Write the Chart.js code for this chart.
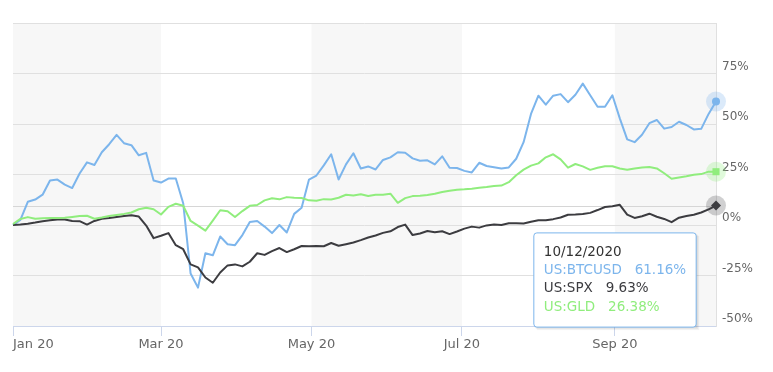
<!DOCTYPE html>
<html>
<head>
<meta charset="utf-8">
<script src="https://cdn.jsdelivr.net/npm/chart.js@4.4.1/dist/chart.umd.min.js"></script>
<style>
  html, body { margin: 0; padding: 0; background: #fff; }
  #wrap { width: 773px; height: 372px; }
</style>
</head>
<body>
<div id="wrap"><canvas id="perfChart" width="773" height="372"></canvas></div>
<script>
// day offsets from 1 Jan 2020
const days = [0, 3, 6, 9, 12, 15, 18, 21, 24, 27, 30, 33, 36, 39, 42, 45, 48, 51, 54, 57,
    60, 63, 66, 69, 72, 75, 78, 81, 84, 87, 90, 93, 96, 99, 102, 105, 108, 111, 114, 117,
    120, 123, 126, 129, 132, 135, 138, 141, 144, 147, 150, 153, 156, 159, 162, 165, 168, 171, 174, 177,
    180, 183, 186, 189, 192, 195, 198, 201, 204, 207, 210, 213, 216, 219, 222, 225, 228, 231, 234, 237,
    240, 243, 246, 249, 252, 255, 258, 261, 264, 267, 270, 273, 276, 279, 282, 285];

// % change since start
const btc = [0, 2.5, 11.5, 12.6, 15, 22, 22.5, 20, 18.3, 25.5,
    31, 29.7, 36, 40, 44.6, 40.5, 39.5, 34.5, 35.7, 22,
    21, 23, 23, 10.8, -24, -31, -14, -15, -5.7, -9.5,
    -10, -5, 1.5, 2, -0.8, -4, 0, -3.7, 5.5, 8.5,
    22.5, 24.5, 29.5, 35, 22.5, 30, 35.5, 28, 29, 27.5,
    32.2, 33.5, 36, 35.8, 33, 31.8, 32, 30, 34, 28.3,
    28.2, 26.8, 26, 30.8, 29.2, 28.6, 28, 28.5, 32.8, 41,
    55, 64, 59.6, 64, 64.8, 60.8, 64.5, 70, 64.2, 58.5,
    58.5, 64.2, 52.8, 42.4, 41, 44.7, 50.4, 52, 47.7, 48.5,
    51.1, 49.5, 47.3, 47.6, 55, 61.16];
const spx = [0, 0.2, 0.6, 1.2, 1.9, 2.3, 2.7, 2.7, 2, 1.9,
    0.2, 2, 3.1, 3.5, 4, 4.5, 4.8, 4.2, -0.3, -6.5,
    -5.3, -4, -10, -12, -19.5, -21, -26, -28.6, -23.5, -20,
    -19.5, -20.5, -18.2, -14, -14.8, -12.9, -11.4, -13.4, -12, -10.4,
    -10.5, -10.4, -10.5, -8.9, -10.3, -9.5, -8.7, -7.5, -6.2, -5.2,
    -3.9, -3.1, -1, 0.2, -5, -4.2, -3, -3.6, -3.1, -4.5,
    -3.2, -1.8, -0.8, -1.3, -0.2, 0.2, 0, 0.9, 0.9, 0.7,
    1.6, 2.3, 2.4, 2.9, 3.7, 5.1, 5.2, 5.4, 6, 7.4,
    8.9, 9.3, 10, 5.1, 3.5, 4.3, 5.6, 4.1, 3, 1.4,
    3.6, 4.5, 5.1, 6.2, 7.7, 9.63];
const gld = [0.5, 3, 3.9, 3.1, 3.3, 3.5, 3.5, 3.6, 4, 4.4,
    4.6, 3.1, 3.7, 4.5, 5, 5.5, 6.2, 7.8, 8.5, 7.8,
    5.2, 9, 10.5, 9.5, 2, -0.3, -2.8, 2.2, 7.3, 6.8,
    4, 6.9, 9.5, 9.9, 12.2, 13.2, 12.7, 13.8, 13.5, 13.4,
    12.2, 12, 12.8, 12.6, 13.5, 15, 14.6, 15.2, 14.4, 15,
    15, 15.5, 11, 13.3, 14.3, 14.5, 14.9, 15.5, 16.3, 17,
    17.5, 17.7, 18, 18.4, 18.8, 19.3, 19.5, 21.2, 24.6, 27.4,
    29.4, 30.5, 33.5, 35, 32.5, 28.4, 30.2, 29, 27.3, 28.3,
    29.1, 29.1, 28, 27.3, 28, 28.5, 28.7, 28, 25.6, 22.9,
    23.5, 24.1, 24.9, 25.2, 26.4, 26.38];

const seriesNames = ['US:BTCUSD', 'US:SPX', 'US:GLD'];
const seriesColors = ['#7cb5ec', '#3c3c40', '#90ed7d'];
const haloColors = ['rgba(124,181,236,0.28)', 'rgba(67,67,72,0.25)', 'rgba(144,237,125,0.28)'];
const markerStyles = ['circle', 'rectRot', 'rect'];
const markerSizes = [4, 5, 5];

const tickDays = [0, 60, 121, 182, 244, 285];
const tickLabels = ['Jan 20', 'Mar 20', 'May 20', 'Jul 20', 'Sep 20', ''];
const shadedBands = [[0, 60], [121, 182], [244, 285]];

const FONT = '"DejaVu Sans", "Lucida Grande", sans-serif';
const last = days.length - 1;

function fmtDate(day) {
    const d = new Date(2020, 0, 1 + day);
    const p = n => String(n).padStart(2, '0');
    return p(d.getMonth() + 1) + '/' + p(d.getDate()) + '/' + d.getFullYear();
}

// alternating background bands
const bandsPlugin = {
    id: 'bands',
    beforeDraw(chart) {
        const { ctx, chartArea } = chart;
        const x = chart.scales.x;
        ctx.save();
        ctx.fillStyle = '#f7f7f7';
        shadedBands.forEach(([a, b]) => {
            const x0 = x.getPixelForValue(a), x1 = x.getPixelForValue(b);
            ctx.fillRect(x0, chartArea.top, x1 - x0, chartArea.bottom - chartArea.top);
        });
        ctx.restore();
    }
};

// crosshair + halos on hovered (last) points
const hoverPlugin = {
    id: 'hoverMarks',
    beforeDatasetsDraw(chart) {
        const { ctx, chartArea } = chart;
        const spxPt = chart.getDatasetMeta(1).data[last];
        ctx.save();
        ctx.strokeStyle = '#d6d6d6';
        ctx.lineWidth = 1;
        ctx.beginPath();
        ctx.moveTo(chartArea.left, Math.round(spxPt.y) + 0.5);
        ctx.lineTo(chartArea.right, Math.round(spxPt.y) + 0.5);
        ctx.stroke();
        seriesNames.forEach((n, s) => {
            const pt = chart.getDatasetMeta(s).data[last];
            ctx.fillStyle = haloColors[s];
            ctx.beginPath();
            ctx.arc(pt.x, pt.y, 10, 0, Math.PI * 2);
            ctx.fill();
        });
        ctx.restore();
    }
};

const tooltipShadow = {
    id: 'tooltipShadow',
    beforeTooltipDraw(chart, args) {
        const tt = args.tooltip;
        const ctx = chart.ctx;
        ctx.save();
        ctx.fillStyle = 'rgba(0,0,0,0.05)';
        [3, 2, 1].forEach(o => ctx.fillRect(tt.x + o, tt.y + o, tt.width, tt.height));
        ctx.restore();
    }
};

Chart.Tooltip.positioners.lastValueBox = function () {
    const a = this.chart.chartArea;
    return { x: a.right - 101, y: a.bottom - 46 };
};

const chart = new Chart(document.getElementById('perfChart'), {
    type: 'line',
    data: {
        datasets: [btc, spx, gld].map((vals, s) => ({
            label: seriesNames[s],
            data: vals.map((v, i) => ({ x: days[i], y: v })),
            borderColor: seriesColors[s],
            backgroundColor: seriesColors[s],
            borderWidth: 2,
            borderJoinStyle: 'round',
            tension: 0,
            fill: false,
            clip: false,
            order: 3 - s,
            pointStyle: markerStyles[s],
            pointRadius: ctx => ctx.dataIndex === last ? markerSizes[s] : 0,
            pointHoverRadius: ctx => ctx.dataIndex === last ? markerSizes[s] : 0,
            pointBorderWidth: 0
        }))
    },
    options: {
        responsive: false,
        devicePixelRatio: 1,
        animation: false,
        events: [],
        layout: { padding: { top: 23, left: 13, right: 0, bottom: 0 } },
        plugins: {
            legend: { display: false },
            tooltip: {
                enabled: true,
                position: 'lastValueBox',
                xAlign: 'center',
                yAlign: 'center',
                caretSize: 0,
                caretPadding: 0,
                backgroundColor: '#ffffff',
                borderColor: '#7cb5ec',
                borderWidth: 1,
                cornerRadius: 3,
                displayColors: false,
                padding: { top: 11, bottom: 12, left: 10, right: 10 },
                titleColor: '#333333',
                titleFont: { family: FONT, size: 13.5, weight: 'normal' },
                titleMarginBottom: 1.8,
                bodyFont: { family: FONT, size: 13.5 },
                bodySpacing: 2.3,
                itemSort: (a, b) => a.datasetIndex - b.datasetIndex,
                callbacks: {
                    title: items => fmtDate(days[items[0].dataIndex]),
                    label: item => item.dataset.label + '   ' + item.parsed.y.toFixed(2) + '%',
                    labelTextColor: item => seriesColors[item.datasetIndex]
                }
            }
        },
        scales: {
            x: {
                type: 'linear',
                min: days[0],
                max: days[last],
                afterBuildTicks: axis => { axis.ticks = tickDays.map(v => ({ value: v })); },
                afterFit: axis => { axis.height = 46; },
                grid: {
                    drawOnChartArea: false,
                    drawTicks: true,
                    tickLength: 10,
                    tickWidth: 1,
                    tickColor: ctx => ctx.index === tickDays.length - 1 ? 'rgba(0,0,0,0)' : '#ccd6eb'
                },
                border: { display: true, color: '#ccd6eb', width: 1 },
                ticks: {
                    autoSkip: false,
                    maxRotation: 0,
                    align: 'inner',
                    padding: 1,
                    color: '#666666',
                    font: { family: FONT, size: 13 },
                    callback: (v, i) => tickLabels[i]
                }
            },
            y: {
                position: 'right',
                min: -50,
                max: 100,
                afterFit: axis => { axis.width = 57; },
                grid: { color: '#e0e0e0', drawTicks: false },
                border: { display: true, color: '#e0e0e0' },
                ticks: {
                    stepSize: 25,
                    padding: 6,
                    labelOffset: -7,
                    color: '#666666',
                    font: { family: FONT, size: 12 },
                    callback: v => v === 100 ? '' : v + '%'
                }
            }
        }
    },
    plugins: [bandsPlugin, hoverPlugin, tooltipShadow]
});

chart.tooltip.setActiveElements(seriesNames.map((n, s) => ({ datasetIndex: s, index: last })), { x: 0, y: 0 });
chart.update();
</script>
</body>
</html>
